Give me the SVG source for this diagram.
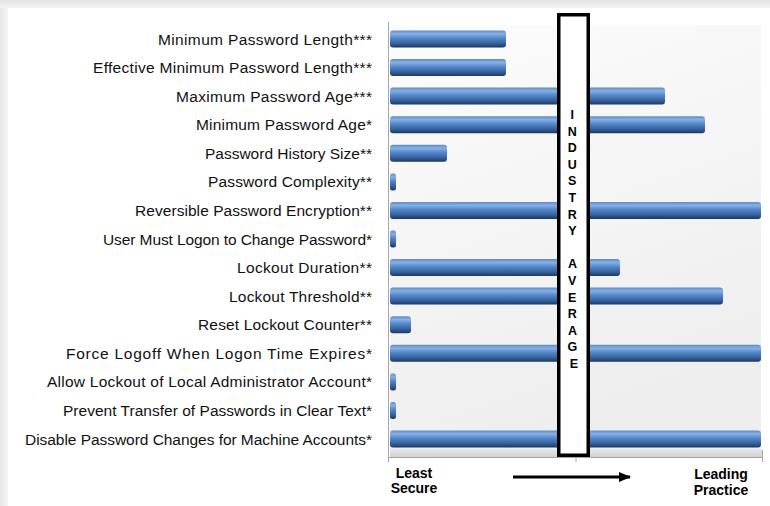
<svg xmlns="http://www.w3.org/2000/svg" width="770" height="506" viewBox="0 0 770 506">
<defs>
<linearGradient id="bar" x1="0" y1="0" x2="0" y2="1">
<stop offset="0" stop-color="#5f8bc6"/>
<stop offset="0.2" stop-color="#86b1e6"/>
<stop offset="0.45" stop-color="#5487ca"/>
<stop offset="0.75" stop-color="#3763a0"/>
<stop offset="1" stop-color="#1c375e"/>
</linearGradient>
<linearGradient id="wall" x1="0" y1="0" x2="0.3" y2="1">
<stop offset="0" stop-color="#fcfcfc"/>
<stop offset="1" stop-color="#eeeeee"/>
</linearGradient>
<linearGradient id="floor" x1="0" y1="0" x2="0" y2="1">
<stop offset="0" stop-color="#e6e6e6"/>
<stop offset="1" stop-color="#d2d2d2"/>
</linearGradient>
<linearGradient id="topband" x1="0" y1="0" x2="0" y2="1">
<stop offset="0" stop-color="#e2e2e2"/>
<stop offset="1" stop-color="#f4f4f4"/>
</linearGradient>
<linearGradient id="leftband" x1="0" y1="0" x2="1" y2="0">
<stop offset="0" stop-color="#e6e6e6"/>
<stop offset="1" stop-color="#f6f6f6"/>
</linearGradient>
<marker id="arrow" viewBox="0 0 12 10" refX="11" refY="5" markerWidth="12" markerHeight="10" markerUnits="userSpaceOnUse" orient="auto">
<path d="M0,0 L12,5 L0,10 z" fill="#000"/>
</marker>
</defs>
<style>
.lbl{font-family:"Liberation Sans",Arial,sans-serif;font-size:15.5px;fill:#111;text-anchor:end}
.bar{fill:url(#bar)}
.ind{font-family:"Liberation Sans",Arial,sans-serif;font-size:12.5px;font-weight:bold;fill:#000;text-anchor:middle}
.ax{font-family:"Liberation Sans",Arial,sans-serif;font-size:14px;font-weight:bold;fill:#000}
.axis{stroke:#a6a6a6;stroke-width:1;fill:none}
</style>
<rect x="0" y="0" width="770" height="506" fill="#ffffff"/>
<rect x="0" y="0" width="770" height="8" fill="url(#topband)"/>
<rect x="0" y="8" width="8" height="498" fill="url(#leftband)"/>
<g id="plot">
<rect x="390" y="25" width="371" height="424" fill="url(#wall)"/>
<rect x="390" y="449" width="372" height="8" fill="url(#floor)"/>
</g>
<g id="axes" class="axis">
<line x1="388.5" y1="22" x2="388.5" y2="462"/>
<line x1="388.5" y1="457.5" x2="762.5" y2="457.5"/>
<line x1="576" y1="457.5" x2="576" y2="462"/>
<line x1="762.5" y1="450" x2="762.5" y2="462"/>
</g>
<g id="row1"><text class="lbl" x="372" y="44.5" textLength="214" lengthAdjust="spacing">Minimum Password Length***</text><rect class="bar" x="390" y="30.5" width="116" height="17" rx="3"/></g>
<g id="row2"><text class="lbl" x="372" y="73.1" textLength="279" lengthAdjust="spacing">Effective Minimum Password Length***</text><rect class="bar" x="390" y="59.1" width="116" height="17" rx="3"/></g>
<g id="row3"><text class="lbl" x="372" y="101.6" textLength="196" lengthAdjust="spacing">Maximum Password Age***</text><rect class="bar" x="390" y="87.6" width="275" height="17" rx="3"/></g>
<g id="row4"><text class="lbl" x="372" y="130.2" textLength="176" lengthAdjust="spacing">Minimum Password Age*</text><rect class="bar" x="390" y="116.2" width="315" height="17" rx="3"/></g>
<g id="row5"><text class="lbl" x="372" y="158.8" textLength="167" lengthAdjust="spacing">Password History Size**</text><rect class="bar" x="390" y="144.8" width="57" height="17" rx="3"/></g>
<g id="row6"><text class="lbl" x="372" y="187.4" textLength="164" lengthAdjust="spacing">Password Complexity**</text><rect class="bar" x="390" y="173.4" width="6" height="17" rx="2.5"/></g>
<g id="row7"><text class="lbl" x="372" y="215.9" textLength="237" lengthAdjust="spacing">Reversible Password Encryption**</text><rect class="bar" x="390" y="201.9" width="371" height="17" rx="3"/></g>
<g id="row8"><text class="lbl" x="372" y="244.5" textLength="269" lengthAdjust="spacing">User Must Logon to Change Password*</text><rect class="bar" x="390" y="230.5" width="6" height="17" rx="2.5"/></g>
<g id="row9"><text class="lbl" x="372" y="273.1" textLength="135" lengthAdjust="spacing">Lockout Duration**</text><rect class="bar" x="390" y="259.1" width="230" height="17" rx="3"/></g>
<g id="row10"><text class="lbl" x="372" y="301.6" textLength="143" lengthAdjust="spacing">Lockout Threshold**</text><rect class="bar" x="390" y="287.6" width="333" height="17" rx="3"/></g>
<g id="row11"><text class="lbl" x="372" y="330.2" textLength="174" lengthAdjust="spacing">Reset Lockout Counter**</text><rect class="bar" x="390" y="316.2" width="21" height="17" rx="3"/></g>
<g id="row12"><text class="lbl" x="372" y="358.8" textLength="306" lengthAdjust="spacing">Force Logoff When Logon Time Expires*</text><rect class="bar" x="390" y="344.8" width="371" height="17" rx="3"/></g>
<g id="row13"><text class="lbl" x="372" y="387.4" textLength="325" lengthAdjust="spacing">Allow Lockout of Local Administrator Account*</text><rect class="bar" x="390" y="373.4" width="6" height="17" rx="2.5"/></g>
<g id="row14"><text class="lbl" x="372" y="415.9" textLength="309" lengthAdjust="spacing">Prevent Transfer of Passwords in Clear Text*</text><rect class="bar" x="390" y="401.9" width="6" height="17" rx="2.5"/></g>
<g id="row15"><text class="lbl" x="372" y="444.5" textLength="347" lengthAdjust="spacing">Disable Password Changes for Machine Accounts*</text><rect class="bar" x="390" y="430.5" width="371" height="17" rx="3"/></g>
<g id="industry-average">
<rect x="558.75" y="14.75" width="29.5" height="440.5" fill="#ffffff" stroke="#000" stroke-width="3.5"/>
<text class="ind" x="574">
<tspan x="574" y="119">I</tspan>
<tspan x="574" y="135.6">N</tspan>
<tspan x="574" y="152.2">D</tspan>
<tspan x="574" y="168.8">U</tspan>
<tspan x="574" y="185.4">S</tspan>
<tspan x="574" y="202">T</tspan>
<tspan x="574" y="218.6">R</tspan>
<tspan x="574" y="235.2">Y</tspan>
<tspan x="574" y="268.4">A</tspan>
<tspan x="574" y="285">V</tspan>
<tspan x="574" y="301.6">E</tspan>
<tspan x="574" y="318.2">R</tspan>
<tspan x="574" y="334.8">A</tspan>
<tspan x="574" y="351.4">G</tspan>
<tspan x="574" y="368">E</tspan>
</text>
</g>
<g id="least-secure"><text class="ax" text-anchor="middle"><tspan x="414" y="478">Least</tspan><tspan x="414" y="493">Secure</tspan></text></g>
<g id="leading-practice"><text class="ax" text-anchor="middle"><tspan x="721" y="479">Leading</tspan><tspan x="721" y="495">Practice</tspan></text></g>
<g id="connectors">
<line x1="513" y1="477" x2="630" y2="477" stroke="#000" stroke-width="3" marker-end="url(#arrow)"/>
</g>
</svg>
